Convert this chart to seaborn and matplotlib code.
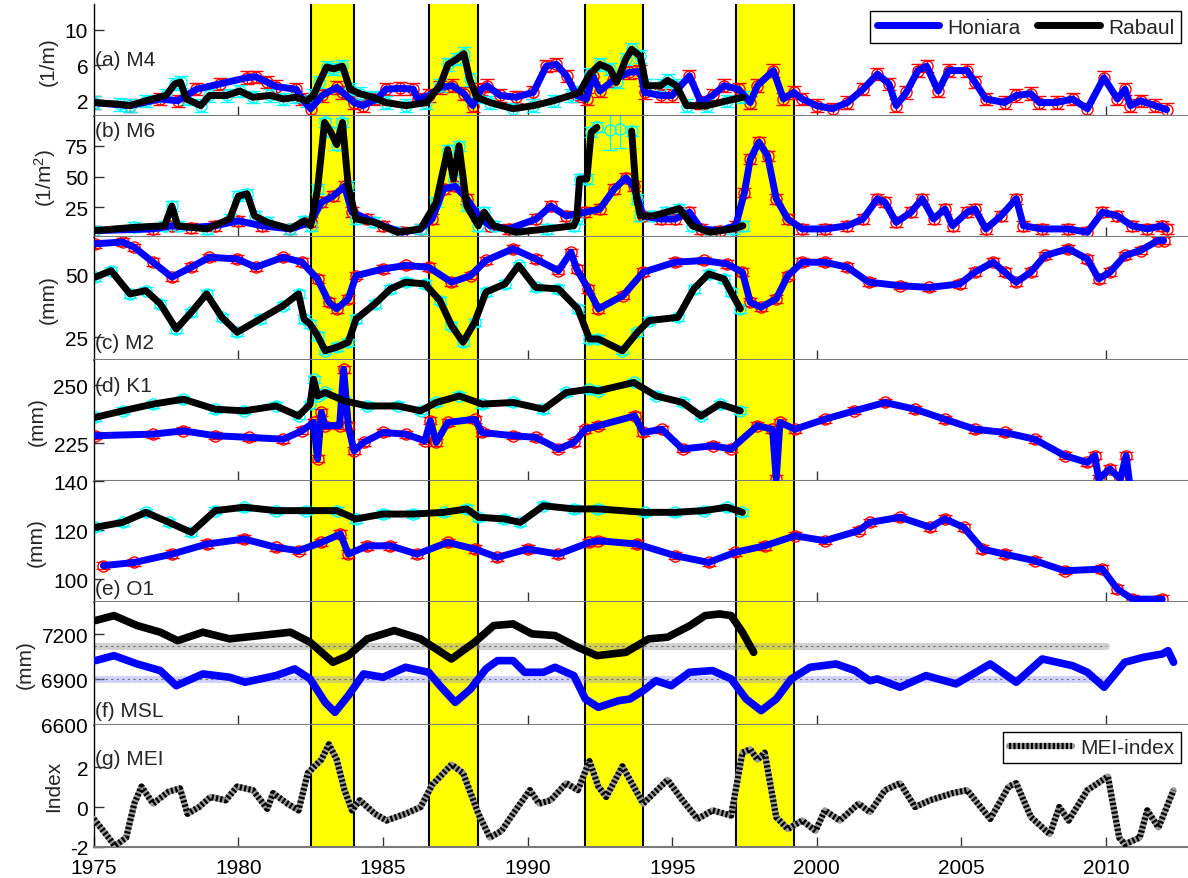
import matplotlib
matplotlib.use("Agg")
import matplotlib.pyplot as plt
import seaborn as sns
from matplotlib.lines import Line2D

# ---------------- data ----------------
spans = [(1982.5, 1984.0), (1986.6, 1988.3), (1992.0, 1994.0), (1997.2, 1999.2)]

# (a) M4
m4_h_yr = [1975.0, 1976.25, 1977.3, 1977.9, 1978.55, 1979.36, 1980.3, 1980.6, 1981.0, 1981.3, 1982.0, 1982.2,
           1982.5, 1982.9, 1983.4, 1983.6, 1984.0, 1984.3, 1984.8, 1985.1, 1985.6, 1986.05, 1986.2, 1986.6,
           1986.97, 1987.4, 1987.8, 1988.1, 1988.4, 1988.6, 1989.05, 1989.6, 1990.2, 1990.65, 1991.0, 1991.35,
           1991.7, 1992.04, 1992.26, 1992.5, 1992.96, 1993.5, 1993.9, 1994.05, 1994.6, 1995.0, 1995.6, 1996.0,
           1996.4, 1996.8, 1997.3, 1997.7, 1997.95, 1998.5, 1998.85, 1999.2, 1999.5, 2000.0, 2000.55, 2001.06,
           2001.6, 2002.1, 2002.5, 2002.75, 2003.1, 2003.5, 2003.8, 2004.2, 2004.56, 2005.2, 2005.47, 2005.85,
           2006.5, 2006.9, 2007.4, 2007.7, 2008.3, 2008.85, 2009.36, 2009.93, 2010.4, 2010.66, 2010.85, 2011.2,
           2011.7, 2012.1]
m4_h = [1.8, 1.45, 2.2, 2.0, 3.3, 3.9, 4.6, 4.7, 4.1, 3.6, 3.3, 2.2,
        1.1, 2.6, 3.5, 2.95, 1.8, 1.45, 2.2, 3.3, 3.4, 3.3, 2.2, 2.6,
        3.5, 3.7, 2.8, 1.45, 3.3, 3.7, 2.6, 2.4, 2.95, 5.9, 6.1, 4.8,
        2.6, 2.2, 4.8, 3.1, 4.3, 5.2, 5.3, 2.95, 2.6, 2.6, 4.8, 1.8,
        2.6, 3.7, 3.3, 1.8, 3.7, 5.4, 2.2, 2.95, 2.2, 1.45, 1.1, 1.8,
        3.3, 5.0, 3.9, 1.45, 2.95, 5.4, 5.9, 3.1, 5.4, 5.4, 4.1, 2.2,
        1.8, 2.6, 2.8, 1.8, 1.8, 2.2, 1.1, 4.6, 2.2, 3.3, 1.45, 2.0,
        1.45, 1.0]
m4_r_yr = [1975.0, 1975.9, 1976.25, 1976.8, 1977.5, 1977.8, 1978.0, 1978.2, 1978.7, 1979.0, 1979.6, 1980.05,
           1980.5, 1981.1, 1981.55, 1982.0, 1982.36, 1982.6, 1982.8, 1983.05, 1983.3, 1983.6, 1983.86, 1984.2,
           1984.65, 1985.1, 1985.8, 1986.5, 1986.97, 1987.25, 1987.55, 1987.8, 1988.0, 1988.24, 1988.7, 1989.5,
           1990.2, 1990.9, 1991.5, 1991.8, 1992.15, 1992.5, 1992.85, 1993.08, 1993.4, 1993.6, 1993.9, 1994.1,
           1994.6, 1994.84, 1995.15, 1995.5, 1996.2, 1996.9, 1997.45]
m4_r = [1.8, 1.6, 1.45, 2.0, 2.6, 3.9, 4.1, 2.2, 1.45, 2.6, 2.6, 3.1,
        2.4, 2.6, 2.2, 2.4, 2.0, 2.6, 4.1, 5.8, 5.6, 5.9, 3.3, 2.8,
        2.4, 1.8, 1.45, 1.8, 3.7, 6.1, 6.7, 7.3, 4.4, 2.4, 1.8, 1.1,
        1.45, 2.0, 2.6, 2.95, 5.0, 6.1, 5.6, 4.1, 6.7, 7.8, 7.0, 3.7,
        3.7, 4.3, 3.7, 1.45, 1.45, 2.0, 2.4]
m4_err = 0.7

# (b) M6
m6_h_yr = [1975.0, 1977.05, 1977.7, 1978.37, 1979.2, 1980.0, 1980.8, 1981.8, 1982.5, 1982.87, 1983.27, 1983.67,
           1983.93, 1984.46, 1985.0, 1985.65, 1986.3, 1986.7, 1987.1, 1987.5, 1987.9, 1988.3, 1988.7, 1989.35,
           1990.3, 1990.8, 1991.34, 1992.0, 1992.5, 1993.0, 1993.4, 1993.67, 1994.0, 1994.6, 1995.1, 1995.6,
           1996.0, 1996.65, 1997.2, 1997.5, 1997.7, 1998.0, 1998.3, 1998.6, 1999.0, 1999.5, 2000.3, 2001.06,
           2001.6, 2002.1, 2002.36, 2002.75, 2003.26, 2003.65, 2004.04, 2004.43, 2004.7, 2005.2, 2005.47, 2005.85,
           2006.37, 2006.9, 2007.15, 2007.8, 2008.7, 2009.36, 2009.88, 2010.4, 2010.9, 2011.43, 2011.95, 2012.1]
m6_h = [6.0, 7.4, 10, 8.5, 10, 14, 10, 7.4, 12.8, 29, 34, 42,
        21, 15.5, 10, 4.7, 7.4, 15.5, 40, 42, 32, 18, 10, 7.4,
        15.5, 26, 18, 21, 23.6, 40, 49, 42, 18, 15.5, 15.5, 21,
        7.4, 6.0, 10, 37, 64, 78, 67, 32, 15.5, 7.4, 7.4, 10,
        15.5, 32, 29, 12.8, 21, 32, 15.5, 23.6, 10, 21, 23.6, 7.4,
        18, 32, 10, 7.4, 7.4, 4.7, 21, 18, 10, 7.4, 10, 7.4]
m6_r_yr1 = [1975.0, 1976.4, 1977.45, 1977.7, 1977.9, 1978.9, 1979.7, 1980.0, 1980.3, 1980.56, 1981.0, 1981.8,
            1982.27, 1982.5, 1982.74, 1982.98, 1983.2, 1983.4, 1983.6, 1983.8, 1984.07, 1984.7, 1985.5, 1986.3,
            1986.84, 1987.24, 1987.44, 1987.63, 1987.9, 1988.3, 1988.5, 1988.83, 1989.6, 1990.67, 1991.6, 1991.7,
            1991.8, 1992.05, 1992.2, 1992.4]
m6_r1 = [6.0, 8.7, 10, 26, 10, 7.4, 15.5, 34, 36, 18, 12.8, 7.4,
         14, 10, 40, 94, 86, 76, 94, 42, 15.5, 12.8, 4.7, 7.4,
         29, 72, 48, 75, 26, 10, 21, 10, 4.7, 7.4, 10, 15.5,
         48, 48, 86, 90]
m6_r_gap_yr = [1992.85, 1993.2]
m6_r_gap = [88, 89]
m6_r_yr2 = [1993.6, 1993.77, 1993.9, 1994.35, 1994.8, 1995.25, 1995.7, 1996.3, 1997.1, 1997.45]
m6_r2 = [87, 32, 18, 18, 21, 24, 10, 4.7, 7.4, 10]
m6_err = 4.0
m6_gap_err = 16.0

# (c) M2
m2_h_yr = [1975.05, 1976.0, 1976.4, 1977.05, 1977.7, 1978.37, 1979.0, 1979.96, 1980.6, 1981.55, 1982.2, 1982.74,
           1983.13, 1983.4, 1983.8, 1984.07, 1985.0, 1985.78, 1986.58, 1987.37, 1988.03, 1988.56, 1989.5, 1990.28,
           1991.07, 1991.5, 1991.7, 1992.1, 1992.45, 1993.3, 1994.0, 1995.1, 1996.1, 1996.9, 1997.43, 1997.7,
           1998.07, 1998.6, 1999.0, 1999.5, 2000.28, 2001.06, 2001.8, 2002.87, 2003.9, 2004.95, 2005.47, 2006.1,
           2006.5, 2006.9, 2007.4, 2007.9, 2008.7, 2009.36, 2009.75, 2010.14, 2010.66, 2011.2, 2011.8, 2012.0]
m2_h = [62.5, 63.2, 61.1, 55.1, 49.1, 53.1, 57.1, 56.4, 53.1, 57.1, 55.1, 48.4,
        39.1, 36.4, 40.4, 49.7, 52.4, 53.8, 53.1, 47.1, 49.7, 55.8, 60.5, 56.4,
        51.7, 59.1, 52.4, 44.4, 36.4, 41.7, 51.1, 55.1, 55.8, 54.4, 51.1, 39.1,
        37.0, 40.4, 49.7, 55.1, 55.1, 53.1, 47.1, 45.7, 45.0, 46.4, 51.1, 55.1,
        51.1, 47.1, 51.1, 57.8, 60.5, 56.4, 48.4, 51.1, 57.8, 59.8, 63.8, 63.8]
m2_r_yr = [1975.05, 1975.6, 1976.25, 1976.8, 1977.3, 1977.85, 1978.37, 1978.9, 1979.43, 1979.96, 1980.75, 1981.55,
           1982.08, 1982.27, 1982.48, 1982.74, 1983.0, 1983.4, 1983.8, 1984.07, 1984.72, 1985.26, 1985.78, 1986.45,
           1986.97, 1987.37, 1987.77, 1988.17, 1988.56, 1989.22, 1989.69, 1990.28, 1991.07, 1991.74, 1992.14, 1992.45,
           1993.28, 1993.8, 1994.2, 1995.2, 1995.75, 1996.26, 1996.8, 1997.04, 1997.36]
m2_r = [49.1, 51.7, 42.4, 43.7, 38.4, 28.3, 35.0, 42.4, 33.0, 27.0, 32.3, 37.7,
        42.4, 32.3, 30.3, 25.6, 19.6, 21.0, 23.0, 32.3, 38.4, 44.4, 47.1, 46.4,
        39.7, 29.7, 23.0, 31.0, 43.1, 46.4, 53.8, 45.0, 44.4, 36.4, 24.3, 24.3,
        19.6, 27.0, 31.7, 33.0, 44.4, 50.4, 48.4, 43.1, 36.4]
m2_err = 1.5

# (d) K1
k1_h_yr = [1975.05, 1977.05, 1978.1, 1979.2, 1980.36, 1981.55, 1982.2, 1982.6, 1982.74, 1982.87, 1983.0, 1983.5,
           1983.64, 1983.8, 1984.0, 1984.33, 1985.0, 1985.78, 1986.45, 1986.64, 1986.84, 1987.24, 1988.17, 1988.43,
           1989.5, 1990.28, 1991.07, 1991.6, 1992.0, 1992.45, 1993.7, 1994.0, 1994.64, 1995.36, 1996.4, 1997.04,
           1997.95, 1998.47, 1998.6, 1998.73, 1999.25, 2000.28, 2001.3, 2002.36, 2003.4, 2004.43, 2005.47, 2006.5,
           2007.54, 2008.58, 2009.36, 2009.62, 2009.75, 2010.14, 2010.5, 2010.7, 2010.85, 2011.5]
k1_h = [228.3, 229.0, 230.4, 228.3, 227.6, 226.8, 230.4, 234.0, 218.3, 238.3, 232.6, 232.6,
        256.9, 232.6, 221.8, 225.4, 229.7, 229.0, 226.1, 234.7, 225.4, 234.0, 235.4, 229.7,
        228.3, 227.6, 222.6, 225.4, 231.1, 232.6, 236.8, 229.7, 231.1, 222.6, 224.0, 222.6,
        232.6, 231.1, 209.7, 234.0, 231.1, 235.4, 239.0, 242.6, 239.7, 235.4, 231.1, 229.7,
        226.8, 219.7, 216.8, 219.7, 209.7, 214.0, 209.7, 219.7, 205.0, 200.0]
k1_r_yr = [1975.05, 1976.0, 1977.05, 1978.1, 1979.2, 1980.2, 1981.3, 1982.08, 1982.48, 1982.6, 1982.74, 1983.0,
           1983.66, 1984.46, 1985.52, 1986.3, 1986.84, 1987.64, 1988.43, 1989.5, 1990.55, 1991.34, 1992.14, 1992.45,
           1993.67, 1994.45, 1995.36, 1996.0, 1996.65, 1997.36]
k1_r = [236.2, 239.0, 241.9, 244.0, 239.7, 239.0, 241.1, 236.8, 241.9, 252.6, 245.4, 246.9,
        243.3, 241.1, 241.1, 239.0, 242.6, 245.4, 241.9, 242.6, 239.7, 246.9, 248.3, 247.6,
        251.2, 245.4, 242.6, 236.8, 241.9, 239.0]
k1_err = 1.5

# (e) O1
o1_h_yr = [1975.33, 1976.4, 1977.7, 1978.9, 1980.2, 1981.3, 1982.08, 1982.87, 1983.53, 1983.8, 1984.46, 1985.26,
           1986.18, 1987.24, 1988.17, 1988.96, 1990.0, 1991.07, 1992.14, 1992.45, 1993.8, 1995.1, 1996.26, 1997.17,
           1998.2, 1999.25, 2000.28, 2001.45, 2001.84, 2002.88, 2003.92, 2004.43, 2005.08, 2005.73, 2006.5, 2007.54,
           2008.58, 2009.88, 2010.4, 2010.92, 2011.95]
o1_h = [105.5, 106.8, 110.2, 114.3, 116.4, 113.0, 111.6, 115.0, 118.4, 110.2, 113.6, 113.6,
        110.2, 115.0, 112.3, 108.9, 112.3, 110.2, 115.0, 115.7, 114.3, 109.6, 106.8, 110.9,
        113.6, 117.7, 115.7, 119.8, 123.2, 125.3, 121.2, 124.6, 121.2, 112.3, 110.2, 107.5,
        103.4, 104.1, 95.9, 91.8, 91.8]
o1_r_yr = [1975.05, 1976.0, 1976.8, 1977.6, 1978.37, 1979.2, 1980.2, 1981.3, 1982.35, 1983.4, 1984.07, 1985.0,
           1986.05, 1987.1, 1987.9, 1988.3, 1989.2, 1989.75, 1990.55, 1991.6, 1992.45, 1994.05, 1995.1, 1996.1,
           1996.9, 1997.43]
o1_r = [121.2, 123.2, 127.3, 123.2, 119.1, 128.0, 129.4, 128.0, 128.0, 128.0, 124.6, 126.6,
        126.6, 127.3, 128.7, 125.3, 124.6, 123.2, 130.0, 128.7, 128.7, 127.3, 127.3, 128.0,
        129.4, 127.3]
o1_err = 1.5

# (f) MSL
msl_h_yr = [1975.05, 1975.7, 1976.5, 1977.3, 1977.85, 1978.77, 1979.7, 1980.23, 1981.3, 1981.95, 1982.48, 1983.0,
            1983.34, 1983.8, 1984.33, 1985.0, 1985.78, 1986.58, 1986.97, 1987.5, 1988.03, 1988.56, 1988.96, 1989.5,
            1989.9, 1990.55, 1990.95, 1991.6, 1992.0, 1992.45, 1993.15, 1993.54, 1994.0, 1994.44, 1994.97, 1995.6,
            1996.4, 1997.04, 1997.56, 1998.08, 1998.6, 1999.12, 1999.77, 2000.67, 2001.32, 2001.84, 2002.1, 2002.88,
            2003.78, 2004.82, 2006.0, 2006.9, 2007.8, 2008.84, 2009.36, 2009.94, 2010.65, 2011.3, 2011.95, 2012.15,
            2012.34]
msl_h = [7024, 7057, 7002, 6958, 6858, 6936, 6914, 6881, 6925, 6969, 6903, 6748,
         6682, 6792, 6936, 6914, 6980, 6947, 6858, 6748, 6836, 6969, 7024, 7024,
         6947, 6947, 6980, 6925, 6770, 6715, 6759, 6770, 6825, 6891, 6858, 6947,
         6958, 6903, 6770, 6693, 6770, 6903, 6980, 7002, 6958, 6891, 6903, 6848,
         6925, 6870, 7002, 6881, 7035, 6991, 6947, 6848, 7013, 7046, 7068, 7090,
         7013]
msl_r_yr = [1975.05, 1975.7, 1976.5, 1977.3, 1977.9, 1978.77, 1979.7, 1980.75, 1981.8, 1982.48, 1983.27, 1983.8,
            1984.46, 1985.39, 1986.3, 1987.37, 1988.17, 1988.83, 1989.5, 1990.15, 1990.95, 1991.74, 1992.4, 1993.4,
            1994.19, 1994.84, 1995.62, 1996.14, 1996.65, 1997.04, 1997.43, 1997.82]
msl_r = [7289, 7322, 7256, 7212, 7156, 7212, 7168, 7190, 7212, 7146, 7013, 7057,
         7168, 7223, 7168, 7035, 7146, 7256, 7267, 7201, 7190, 7112, 7057, 7079,
         7168, 7179, 7256, 7322, 7333, 7322, 7212, 7079]
mean_yr = [1975.0, 2010.0]
msl_h_mean = [6903, 6903]
msl_r_mean = [7123, 7123]

# (g) MEI
mei_yr = [1975.0, 1975.33, 1975.73, 1976.12, 1976.4, 1976.65, 1977.05, 1977.58, 1977.98, 1978.24, 1978.64, 1979.04,
          1979.56, 1979.96, 1980.5, 1981.0, 1981.2, 1981.7, 1982.08, 1982.4, 1982.87, 1983.13, 1983.4, 1983.67,
          1983.93, 1984.2, 1984.72, 1985.12, 1985.78, 1986.3, 1986.7, 1987.37, 1987.77, 1988.3, 1988.7, 1989.1,
          1989.5, 1990.08, 1990.4, 1990.8, 1991.34, 1991.74, 1992.14, 1992.45, 1992.72, 1993.28, 1993.67, 1994.0,
          1994.84, 1995.36, 1995.88, 1996.4, 1997.04, 1997.43, 1997.7, 1997.95, 1998.2, 1998.6, 1999.0, 1999.5,
          1999.96, 2000.28, 2000.8, 2001.45, 2001.84, 2002.36, 2002.88, 2003.4, 2003.92, 2004.7, 2005.2, 2006.0,
          2006.64, 2006.9, 2007.41, 2008.06, 2008.39, 2008.71, 2009.36, 2010.07, 2010.46, 2010.66, 2011.17, 2011.43,
          2011.82, 2012.34]
mei = [-0.6, -1.2, -1.96, -1.54, 0.17, 1.03, 0.17, 0.77, 0.94, -0.34, 0.0, 0.51,
       0.34, 1.03, 0.85, -0.09, 0.7, 0.17, -0.17, 1.71, 2.39, 3.16, 2.39, 0.85,
       -0.17, 0.34, -0.34, -0.68, -0.34, 0.0, 1.11, 2.14, 1.71, -0.34, -1.54, -1.2,
       -0.34, 0.85, 0.17, 0.34, 1.2, 0.85, 2.31, 1.03, 0.51, 2.05, 1.03, 0.17,
       1.37, 0.34, -0.6, -0.17, -0.43, 2.74, 2.91, 2.39, 2.74, -0.51, -1.11, -0.68,
       -1.2, -0.17, -0.68, 0.17, -0.26, 0.85, 1.2, 0.0, 0.34, 0.7, 0.85, -0.6,
       1.03, 1.2, -0.51, -1.37, 0.0, -0.68, 0.85, 1.54, -1.54, -1.88, -1.54, -0.17,
       -1.03, 0.85]

panel_titles = ["(a) M4", "(b) M6", "(c) M2", "(d) K1", "(e) O1", "(f) MSL", "(g) MEI"]
y_labels = ["(1/m)", "(1/m$^{2}$)", "(mm)", "(mm)", "(mm)", "(mm)", "Index"]
y_ticks = [[2, 6, 10], [25, 50, 75], [25, 50], [225, 250], [100, 120, 140], [6600, 6900, 7200], [-2, 0, 2]]
y_lims = [(0.25, 12.9), (0.6, 99), (16, 65.1), (208.7, 261), (90.5, 140), (6600, 7410), (-2, 4.15)]
x_ticks_inner = [1980, 1990, 2000, 2010]
x_ticks_bottom = [1975, 1980, 1985, 1990, 1995, 2000, 2005, 2010]
series_names = ["Honiara", "Rabaul"]

# ---------------- style ----------------
sns.set_theme(style="white")
plt.rcParams['font.family'] = ['Liberation Sans', 'DejaVu Sans']
plt.rcParams['mathtext.fontset'] = 'custom'
plt.rcParams['mathtext.rm'] = 'Liberation Sans'
plt.rcParams['mathtext.it'] = 'Liberation Sans:italic'
FS = 15

W, H = 1188, 879
fig = plt.figure(figsize=(W / 100, H / 100), dpi=100)
left_px = 93.8
bounds = [(5, 117.3), (117.3, 238.3), (238.3, 360.7), (360.7, 482.3),
          (482.3, 603.3), (603.3, 725.7), (725.7, 847.7)]
axes = []
for top, bot in bounds:
    ax = fig.add_axes([left_px / W, 1 - bot / H, (W - left_px) / W, (bot - top) / H])
    axes.append(ax)

title_pos = [0.51, 0.88, 0.142, 0.786, 0.11, 0.114, 0.719]


def base(ax, i):
    for s, e in spans:
        ax.axvspan(s, e, facecolor='yellow', edgecolor='none', zorder=0)
        ax.axvline(s, color='black', lw=1.5, zorder=1)
        ax.axvline(e, color='black', lw=1.5, zorder=1)
    ax.set_xlim(1975, 2012.84)
    ax.set_ylim(*y_lims[i])
    ax.set_yticks(y_ticks[i])
    ax.set_yticklabels([str(t) for t in y_ticks[i]])
    ax.set_ylabel(y_labels[i], fontsize=FS, labelpad=5)
    for sp in ['top', 'right']:
        ax.spines[sp].set_visible(False)
    ax.spines['left'].set_color('black')
    ax.spines['left'].set_linewidth(1.0)
    ax.spines['bottom'].set_color('#7a7a7a')
    ax.spines['bottom'].set_linewidth(1.5)
    ax.tick_params(axis='both', direction='in', length=7, width=1, colors='#333333',
                   labelsize=FS, labelcolor='black', pad=4)
    ax.tick_params(axis='y', left=True, right=False)
    ax.tick_params(axis='x', bottom=True, top=False)
    if i < 6:
        ax.set_xticks(x_ticks_inner)
        ax.set_xticklabels([])
    else:
        ax.set_xticks(x_ticks_bottom)
        ax.set_xticklabels([str(t) for t in x_ticks_bottom])
        ax.tick_params(axis='x', pad=8)
    ax.set_xlabel("")
    ax.text(0.001, title_pos[i], panel_titles[i], transform=ax.transAxes,
            ha='left', va='center', fontsize=FS, zorder=10)


def halo(ax, yr, val, err, color, z):
    ax.errorbar(yr, val, yerr=err, fmt='o', ms=8, mfc='none', mec=color, mew=1.0,
                ecolor=color, elinewidth=1.0, capsize=5, capthick=1.0, zorder=z)


def line(ax, yr, val, color, z, lw=5):
    sns.lineplot(x=yr, y=val, ax=ax, color=color, lw=lw, sort=False,
                 estimator=None, legend=False, zorder=z)


for i, ax in enumerate(axes):
    base(ax, i)

# (a)
ax = axes[0]
halo(ax, m4_h_yr, m4_h, m4_err, 'red', 2)
halo(ax, m4_r_yr, m4_r, m4_err, 'cyan', 2)
line(ax, m4_h_yr, m4_h, 'blue', 4)
line(ax, m4_r_yr, m4_r, 'black', 5)

# (b)
ax = axes[1]
halo(ax, m6_h_yr, m6_h, m6_err, 'red', 2)
halo(ax, m6_r_yr1, m6_r1, m6_err, 'cyan', 2)
halo(ax, m6_r_yr2, m6_r2, m6_err, 'cyan', 2)
halo(ax, m6_r_gap_yr, m6_r_gap, m6_gap_err, 'cyan', 2)
line(ax, m6_h_yr, m6_h, 'blue', 4)
line(ax, m6_r_yr1, m6_r1, 'black', 5)
line(ax, m6_r_yr2, m6_r2, 'black', 5)

# (c)
ax = axes[2]
halo(ax, m2_h_yr, m2_h, m2_err, 'red', 2)
halo(ax, m2_r_yr, m2_r, m2_err, 'cyan', 2)
line(ax, m2_h_yr, m2_h, 'blue', 4)
line(ax, m2_r_yr, m2_r, 'black', 5)

# (d)
ax = axes[3]
halo(ax, k1_h_yr, k1_h, k1_err, 'red', 2)
halo(ax, k1_r_yr, k1_r, k1_err, 'cyan', 2)
line(ax, k1_h_yr, k1_h, 'blue', 4)
line(ax, k1_r_yr, k1_r, 'black', 5)

# (e)
ax = axes[4]
halo(ax, o1_h_yr, o1_h, o1_err, 'red', 2)
halo(ax, o1_r_yr, o1_r, o1_err, 'cyan', 2)
line(ax, o1_h_yr, o1_h, 'blue', 4)
line(ax, o1_r_yr, o1_r, 'black', 5)

# (f)
ax = axes[5]
sns.lineplot(x=mean_yr, y=msl_r_mean, ax=ax, color='#9a9a9a', lw=5, alpha=0.45, estimator=None, legend=False, zorder=2)
sns.lineplot(x=mean_yr, y=msl_r_mean, ax=ax, color='#707070', lw=0.8, linestyle=(0, (2, 3)), estimator=None, legend=False, zorder=2)
sns.lineplot(x=mean_yr, y=msl_h_mean, ax=ax, color='#8080ff', lw=5, alpha=0.35, estimator=None, legend=False, zorder=2)
sns.lineplot(x=mean_yr, y=msl_h_mean, ax=ax, color='#707070', lw=0.8, linestyle=(0, (2, 3)), estimator=None, legend=False, zorder=2)
line(ax, msl_h_yr, msl_h, 'blue', 4, lw=5.5)
line(ax, msl_r_yr, msl_r, 'black', 5, lw=5.5)

# (g)
ax = axes[6]
line(ax, mei_yr, mei, '#9a9a9a', 3, lw=4.5)
sns.lineplot(x=mei_yr, y=mei, ax=ax, color='black', lw=4.5, linestyle=(0, (0.35, 0.35)),
             sort=False, estimator=None, legend=False, zorder=4)

# legends
h_leg = [Line2D([], [], color='blue', lw=5), Line2D([], [], color='black', lw=5)]
leg = axes[0].legend(h_leg, series_names, loc='upper right', ncol=2, fontsize=FS,
                     frameon=True, fancybox=False, edgecolor='black', framealpha=1,
                     handlelength=3.0, columnspacing=0.8, handletextpad=0.4,
                     borderaxespad=0.35, borderpad=0.3)
leg.get_frame().set_linewidth(1.0)
leg.set_zorder(20)

mei_h = (Line2D([], [], color='#9a9a9a', lw=4.5),
         Line2D([], [], color='black', lw=4.5, linestyle=(0, (0.35, 0.35))))
leg2 = axes[6].legend([mei_h], ["MEI-index"], loc='upper right', fontsize=FS,
                      frameon=True, fancybox=False, edgecolor='black', framealpha=1,
                      handlelength=3.0, handletextpad=0.4, borderaxespad=0.35, borderpad=0.3)
leg2.get_frame().set_linewidth(1.0)
leg2.set_zorder(20)

fig.savefig("out.png", dpi=100)
